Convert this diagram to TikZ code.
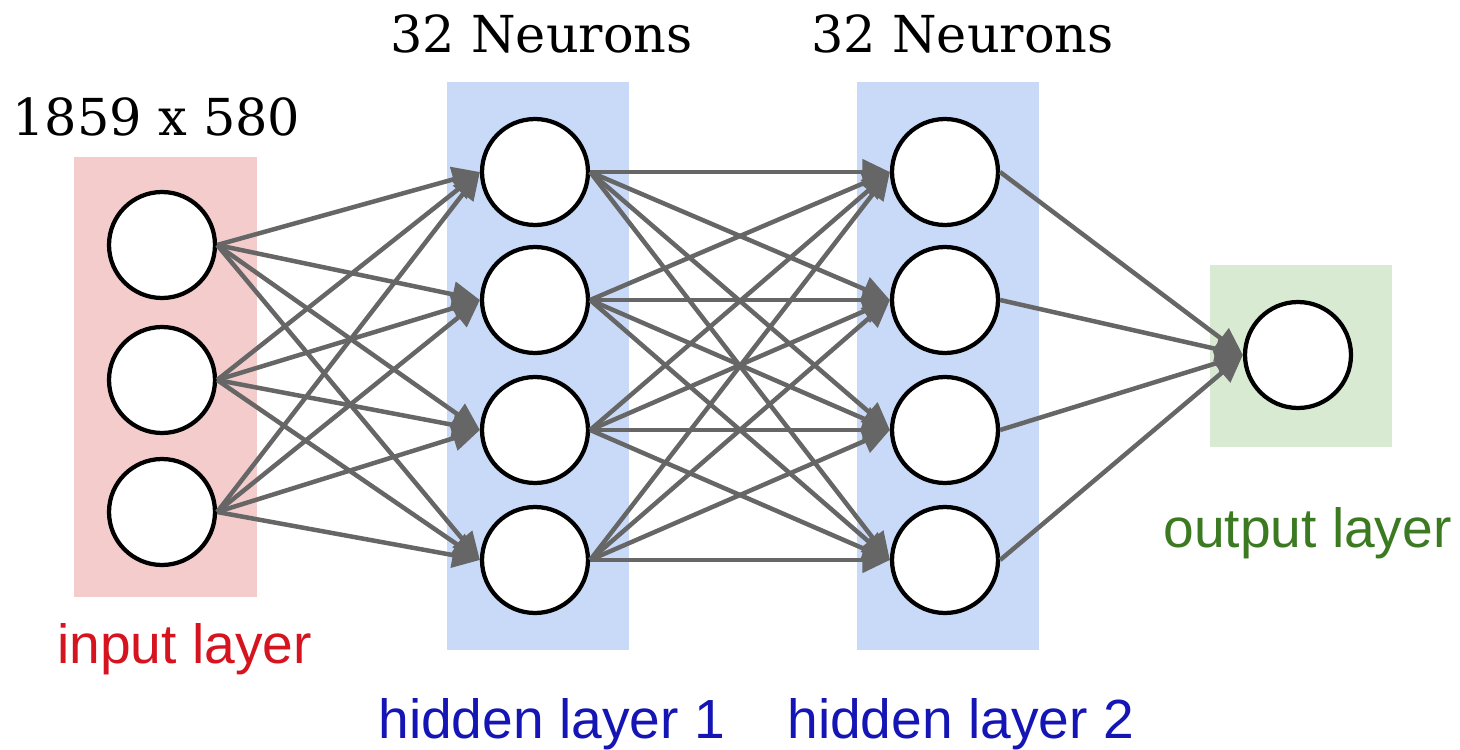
\documentclass[tikz,border=0pt]{standalone}
\usepackage{fontspec}
\setmainfont{DejaVu Serif}
\newfontfamily\labelfont{Liberation Sans}
\usetikzlibrary{arrows.meta}
\definecolor{inbg}{HTML}{F4CCCC}
\definecolor{hidbg}{HTML}{C9DAF8}
\definecolor{outbg}{HTML}{D9EAD3}
\definecolor{edgegray}{HTML}{666666}
\definecolor{inred}{HTML}{D51420}
\definecolor{hidblue}{HTML}{1515B5}
\definecolor{outgreen}{HTML}{3C7A22}

\begin{document}
\begin{tikzpicture}[x=0.02cm,y=-0.02cm,
  neuron/.style={circle,draw=black,line width=0.085cm,fill=white,minimum size=2.12cm,inner sep=0pt},
  link/.style={draw=edgegray,line width=0.09cm,-{Triangle[length=0.55cm,width=0.5cm]}},
  heading/.style={font=\fontsize{29}{30}\selectfont,anchor=base west,inner sep=0pt},
  layername/.style={font=\labelfont\fontsize{31.4}{33}\selectfont,anchor=base west,inner sep=0pt}]
% canvas
\fill[white] (0,0) rectangle (1460,750);
\useasboundingbox (0,0) rectangle (1460,750);

% layer backgrounds
\fill[inbg]  (74,157)   rectangle (257,597);
\fill[hidbg] (447,82)   rectangle (629,650);
\fill[hidbg] (857,82)   rectangle (1039,650);
\fill[outbg] (1210,265) rectangle (1392,447);

% neurons
\foreach \i/\y in {1/245,2/380,3/512}
  \node[neuron] (i\i) at (162,\y) {};
\foreach \i/\y in {1/172,2/300,3/430,4/560}{
  \node[neuron] (a\i) at (535,\y) {};
  \node[neuron] (b\i) at (945,\y) {};
}
\node[neuron] (o) at (1298,355) {};

% connections
\foreach \s in {1,2,3}
  \foreach \t in {1,2,3,4}
    \draw[link] (i\s.east) -- (a\t.west);
\foreach \s in {1,2,3,4}
  \foreach \t in {1,2,3,4}
    \draw[link] (a\s.east) -- (b\t.west);
\foreach \s in {1,2,3,4}
  \draw[link] (b\s.east) -- (o.west);

% headings
\node[heading] (dims) at (12,135) {1859 x 580};
\node[heading] (n1) at (390,53) {32 Neurons};
\node[heading] (n2) at (811,53) {32 Neurons};

% layer names
\node[layername,text=inred]    (lin)  at (57,663)   {input layer};
\node[layername,text=hidblue]  (lh1)  at (378,738)  {hidden layer 1};
\node[layername,text=hidblue]  (lh2)  at (787,738)  {hidden layer 2};
\node[layername,text=outgreen] (lout) at (1163,547) {output layer};
\end{tikzpicture}
\end{document}
